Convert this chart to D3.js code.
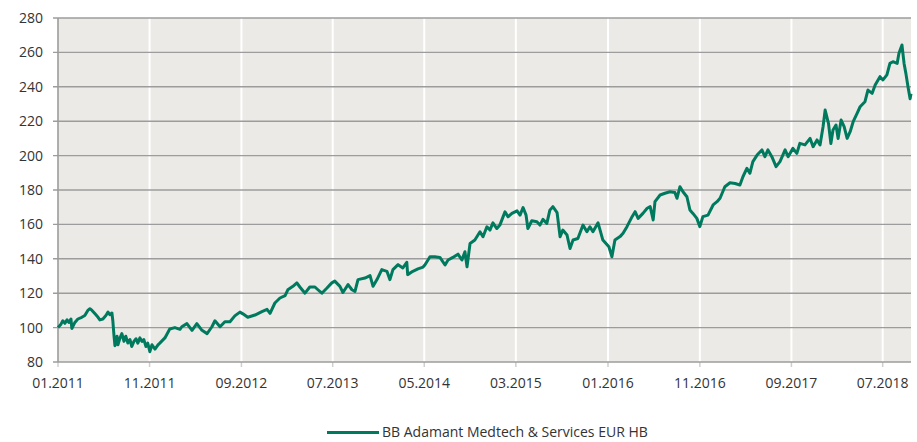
<!DOCTYPE html>
<html>
<head>
<meta charset="utf-8">
<script src="https://cdn.jsdelivr.net/npm/d3@7"></script>
<style>
  html, body { margin: 0; padding: 0; background: #fff; }
  svg { display: block; font-family: "Open Sans", "Noto Sans", sans-serif; }
</style>
</head>
<body>
<svg id="chart" width="917" height="442"></svg>
<script>
const seriesName = "BB Adamant Medtech & Services EUR HB";
const yTicks = [80, 100, 120, 140, 160, 180, 200, 220, 240, 260, 280];
const xTickLabels = ["01.2011","11.2011","09.2012","07.2013","05.2014","03.2015","01.2016","11.2016","09.2017","07.2018"];
const dates = [
"2011-01-01","2011-01-11","2011-01-17","2011-01-24","2011-01-31","2011-02-06","2011-02-13","2011-02-16","2011-02-26","2011-03-08",
"2011-03-21","2011-03-31","2011-04-10","2011-04-17","2011-04-24","2011-05-04","2011-05-14","2011-05-20","2011-05-30","2011-06-09",
"2011-06-16","2011-06-22","2011-06-29","2011-07-02","2011-07-06","2011-07-09","2011-07-16","2011-07-19","2011-07-26","2011-08-01",
"2011-08-08","2011-08-14","2011-08-21","2011-08-28","2011-09-03","2011-09-10","2011-09-17","2011-09-23","2011-09-30","2011-10-07",
"2011-10-13","2011-10-20","2011-10-26","2011-11-02","2011-11-09","2011-11-19","2011-11-29","2011-12-05","2011-12-22","2012-01-07",
"2012-01-24","2012-02-10","2012-02-16","2012-03-04","2012-03-21","2012-04-06","2012-04-23","2012-05-10","2012-05-26","2012-06-05",
"2012-06-22","2012-07-08","2012-07-25","2012-08-10","2012-08-27","2012-09-06","2012-09-22","2012-10-16","2012-11-08","2012-11-25",
"2012-12-05","2012-12-21","2013-01-07","2013-01-24","2013-02-02","2013-02-19","2013-03-04","2013-03-14","2013-03-31","2013-04-16",
"2013-05-03","2013-05-13","2013-05-26","2013-06-12","2013-06-28","2013-07-08","2013-07-25","2013-08-04","2013-08-21","2013-09-03",
"2013-09-13","2013-09-23","2013-10-16","2013-11-02","2013-11-12","2013-11-25","2013-12-11","2013-12-28","2014-01-07","2014-01-17",
"2014-02-03","2014-02-19","2014-03-04","2014-03-07","2014-03-24","2014-04-10","2014-04-27","2014-05-03","2014-05-20","2014-06-05",
"2014-06-22","2014-07-09","2014-07-19","2014-08-04","2014-08-21","2014-09-03","2014-09-13","2014-09-20","2014-09-30","2014-10-16",
"2014-11-02","2014-11-12","2014-11-25","2014-12-05","2014-12-15","2014-12-28","2015-01-07","2015-01-24","2015-02-03","2015-02-16",
"2015-03-05","2015-03-15","2015-03-25","2015-04-04","2015-04-10","2015-04-23","2015-05-10","2015-05-20","2015-05-30","2015-06-12",
"2015-06-22","2015-07-02","2015-07-16","2015-07-26","2015-08-04","2015-08-18","2015-08-28","2015-09-07","2015-09-23","2015-10-10",
"2015-10-23","2015-11-02","2015-11-12","2015-11-29","2015-12-15","2016-01-04","2016-01-14","2016-01-24","2016-02-10","2016-02-20",
"2016-03-04","2016-03-21","2016-03-31","2016-04-10","2016-04-26","2016-05-10","2016-05-20","2016-05-30","2016-06-05","2016-06-22",
"2016-07-08","2016-07-25","2016-08-10","2016-08-17","2016-08-27","2016-09-06","2016-09-19","2016-09-29","2016-10-09","2016-10-22",
"2016-11-01","2016-11-11","2016-11-28","2016-12-15","2016-12-28","2017-01-07","2017-01-23","2017-02-09","2017-02-26","2017-03-14",
"2017-03-24","2017-04-06","2017-04-16","2017-04-26","2017-05-10","2017-05-26","2017-06-05","2017-06-15","2017-06-28","2017-07-12",
"2017-07-25","2017-08-11","2017-08-21","2017-09-06","2017-09-19","2017-09-29","2017-10-16","2017-11-02","2017-11-12","2017-11-25",
"2017-12-05","2017-12-15","2017-12-22","2018-01-02","2018-01-10","2018-01-17","2018-01-27","2018-02-03","2018-02-13","2018-02-23",
"2018-03-05","2018-03-15","2018-03-25","2018-04-07","2018-04-17","2018-05-03","2018-05-13","2018-05-27","2018-06-06","2018-06-22",
"2018-07-02","2018-07-15","2018-07-25","2018-08-04","2018-08-18","2018-08-24","2018-09-03","2018-09-10","2018-09-16","2018-09-23",
"2018-09-30","2018-10-03"
];
const values = [
100,102,104,102.5,104.5,103,105,99.5,103,105,
106,107,110,111,110,108,106,104.5,105,107,
109,107.5,108.5,104,95,89.5,95,90,94,96.5,
92,95,91,93,89,92,93.5,91,94,92,
93,89,91,86,90,87.5,90,91,94,99.2,
100,99,100.5,102.3,98.4,102.3,98.4,96.5,100.5,104,
100.5,103.4,103.4,106.8,109,108,106,107.3,109.3,110.6,
108.3,114.3,117.2,118.6,122,124,126,123.6,120,123.6,
123.6,122,120,123,126,127,124,120.4,125,122,
121,127.9,128.8,130.2,124,127.9,133.7,132.7,127.9,133.7,
136.6,134.7,138,130.8,132.7,134.1,135.2,136.4,141.2,141.2,
140.8,136.4,139.3,140.8,142.7,139.3,144.1,135.4,148.9,150.9,
155.7,152.8,158.6,156.7,160.9,157.6,159.6,167.3,164.4,166.4,
167.9,165.4,169.8,165.4,157.6,162.1,161.5,159.6,162.9,160.6,
168.3,170.3,166.8,152.8,156.7,153.8,146,150.9,151.8,159.6,
155.7,158.6,155.7,160.9,150.9,147,141.2,150.9,152.9,154.8,
158.7,164.5,167.4,163.5,166.4,169.4,170.3,162.6,173.2,177.1,
178.1,179,178.5,175.2,181.9,179,176.1,168.4,166.4,163.5,
158.7,164.5,165.4,171.3,173.2,175.2,181.9,184.2,183.8,182.9,
187.7,192.6,189.7,196.5,200.3,203.3,199.4,203.3,199.4,193.6,
196.5,203.3,199.4,204.2,201.3,207.1,206.2,210,205.2,209.1,
206.2,216.8,226.5,218.8,207,214.9,217.8,210,220.7,216.8,
210,213.9,219.7,224.6,228.4,231.3,238.1,236.2,241,245.9,
244,246.9,253.6,254.6,253.6,259.5,264.3,253.6,247.8,240,
233,236
];

const parse = d3.timeParse("%Y-%m-%d");
const data = dates.map((d, i) => ({ date: parse(d), value: values[i] }));

const svg = d3.select("#chart");
const L = 58, R = 911, T = 18, B = 362;

const x = d3.scaleTime()
  .domain([parse("2011-01-01"), parse("2018-10-03")])
  .range([L, R]);
const y = d3.scaleLinear().domain([80, 280]).range([B, T]);

// background
svg.append("rect").attr("x", L).attr("y", T).attr("width", R - L).attr("height", B - T)
  .attr("fill", "#ECEAE6");

const tickDates = xTickLabels.map(s => d3.timeParse("%m.%Y")(s));

// vertical white gridlines
svg.append("g").selectAll("line").data(tickDates.slice(1)).join("line")
  .attr("x1", d => x(d)).attr("x2", d => x(d))
  .attr("y1", T).attr("y2", B)
  .attr("stroke", "#fff").attr("stroke-width", 2);

// bottom tick marks
svg.append("g").selectAll("line").data(tickDates).join("line")
  .attr("x1", d => x(d)).attr("x2", d => x(d))
  .attr("y1", B).attr("y2", B + 5)
  .attr("stroke", "#cfcfcf").attr("stroke-width", 1.5);

// horizontal gridlines
svg.append("g").selectAll("line").data(yTicks).join("line")
  .attr("x1", L - 5).attr("x2", R)
  .attr("y1", d => y(d)).attr("y2", d => y(d))
  .attr("stroke", "#9c9c9c").attr("stroke-width", 1.4);

// left axis line
svg.append("line").attr("x1", L).attr("x2", L).attr("y1", T).attr("y2", B)
  .attr("stroke", "#9c9c9c").attr("stroke-width", 1.6);

// y labels
svg.append("g").selectAll("text").data(yTicks).join("text")
  .attr("x", 43).attr("y", d => y(d)).attr("dy", "0.35em")
  .attr("text-anchor", "end").attr("font-size", 14).attr("fill", "#333")
  .text(d => d);

// x labels
svg.append("g").selectAll("text").data(tickDates).join("text")
  .attr("x", d => x(d)).attr("y", 388)
  .attr("text-anchor", "middle").attr("font-size", 14).attr("fill", "#333")
  .text((d, i) => xTickLabels[i]);

// series line
const line = d3.line().x(d => x(d.date)).y(d => y(d.value)).curve(d3.curveLinear);
svg.append("path").datum(data)
  .attr("d", line).attr("fill", "none")
  .attr("stroke", "#007A5E").attr("stroke-width", 3)
  .attr("stroke-linejoin", "round");

// legend
svg.append("line").attr("x1", 327).attr("x2", 379).attr("y1", 432.5).attr("y2", 432.5)
  .attr("stroke", "#007A5E").attr("stroke-width", 3);
svg.append("text").attr("x", 382).attr("y", 432.5).attr("dy", "0.35em")
  .attr("font-size", 14).attr("fill", "#333").text(seriesName);
</script>
</body>
</html>
